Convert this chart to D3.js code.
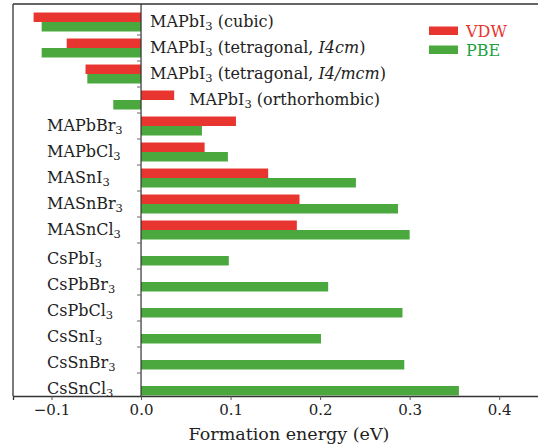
<!DOCTYPE html>
<html><head><meta charset="utf-8">
<script src="https://cdn.jsdelivr.net/npm/d3@7"></script>
<style>
html,body{margin:0;padding:0;background:#fff;}
svg text{font-family:"DejaVu Serif",serif;}
</style></head>
<body><div id="chart"></div>
<script>
const categories = ["MAPbI3c","MAPbI3t1","MAPbI3t2","MAPbI3o","MAPbBr3","MAPbCl3","MASnI3","MASnBr3","MASnCl3","CsPbI3","CsPbBr3","CsPbCl3","CsSnI3","CsSnBr3","CsSnCl3"];
const labelMain = ["MAPbI","MAPbI","MAPbI","MAPbI","MAPbBr","MAPbCl","MASnI","MASnBr","MASnCl","CsPbI","CsPbBr","CsPbCl","CsSnI","CsSnBr","CsSnCl"];
const labelSuffix = [" (cubic)"," (tetragonal, "," (tetragonal, "," (orthorhombic)","","","","","","","","","","",""];
const labelItalic = ["","I4cm","I4/mcm","","","","","","","","","","","",""];
const vdwValues = [-0.120,-0.083,-0.062,0.037,0.106,0.071,0.142,0.177,0.174,null,null,null,null,null,null];
const pbeValues = [-0.111,-0.111,-0.060,-0.031,0.068,0.097,0.240,0.287,0.300,0.098,0.209,0.292,0.201,0.294,0.355];
const xTicks = [-0.1,0.0,0.1,0.2,0.3,0.4];
const seriesNames = ["VDW","PBE"];
const seriesColors = ["#e8352f","#4aa83f"];
const legendTextColors = ["#e8352f","#22a040"];

const W = 538, H = 445;
const FONT = '"DejaVu Serif",serif';
const svg = d3.select("#chart").append("svg").attr("width",W).attr("height",H);
const plot = {left:13, right:541, top:4, bottom:396};

const x = d3.scaleLinear().domain([-0.143, 0.4467]).range([plot.left, plot.right]);
const y = d3.scaleBand().domain(categories).range([9, 399]).padding(0);
const barH = y.bandwidth()*0.365;
const cy = c => y(c) + y.bandwidth()/2;

const rows = categories.map((c,i)=>({c, i, vdw:vdwValues[i], pbe:pbeValues[i]}));

svg.append("g").selectAll("rect").data(rows.filter(d=>d.vdw!==null)).join("rect")
  .attr("x", d=>x(Math.min(0,d.vdw))).attr("width", d=>Math.abs(x(d.vdw)-x(0)))
  .attr("y", d=>cy(d.c)-barH).attr("height", barH).attr("fill", seriesColors[0]);
svg.append("g").selectAll("rect").data(rows).join("rect")
  .attr("x", d=>x(Math.min(0,d.pbe))).attr("width", d=>Math.abs(x(d.pbe)-x(0)))
  .attr("y", d=>cy(d.c)).attr("height", barH).attr("fill", seriesColors[1]);

const axisColor = "#333";
svg.append("line").attr("x1",plot.left).attr("x2",plot.left).attr("y1",plot.top).attr("y2",plot.bottom)
  .attr("stroke",axisColor).attr("stroke-width",1.3);
svg.append("line").attr("x1",plot.left).attr("x2",W).attr("y1",plot.top).attr("y2",plot.top)
  .attr("stroke",axisColor).attr("stroke-width",1.3);

svg.append("line").attr("x1",x(0)).attr("x2",x(0)).attr("y1",plot.top).attr("y2",plot.bottom)
  .attr("stroke",axisColor).attr("stroke-width",1.2);
svg.append("g").selectAll("line").data(categories.slice(1)).join("line")
  .attr("x1",x(0)-4).attr("x2",x(0)).attr("y1",d=>y(d)).attr("y2",d=>y(d))
  .attr("stroke","#666").attr("stroke-width",1);

const xAxis = d3.axisBottom(x).tickValues(xTicks).tickSize(4).tickPadding(4)
  .tickFormat(d=> (d<0?"\u2212":"") + Math.abs(d).toFixed(1));
const gx = svg.append("g").attr("transform",`translate(0,${plot.bottom})`).call(xAxis);
gx.attr("font-family", FONT);
gx.select(".domain").attr("stroke",axisColor).attr("stroke-width",1.3);
gx.selectAll(".tick line").attr("stroke","#555");
gx.selectAll(".tick text").attr("fill","#222").style("font-size","15px").style("font-family",FONT);

svg.append("text").attr("x", 289).attr("y", 440).attr("text-anchor","middle")
  .attr("fill","#222").style("font-size","17.5px").style("font-family",FONT).text("Formation energy (eV)");

const lab = svg.append("g").style("font-family",FONT);
rows.forEach(d=>{
  const right = d.i < 4;
  const maxV = Math.max(0, d.vdw===null?0:d.vdw, d.pbe);
  const lx = right ? x(maxV) + (maxV>0 ? 15 : 9) : 47;
  const ly = cy(d.c) + (d.vdw===null ? 3 : 0) + 5;
  const t = lab.append("text").attr("x",lx).attr("y",ly).attr("fill","#222").style("font-size","16px");
  t.append("tspan").text(labelMain[d.i]);
  t.append("tspan").attr("dy",2.5).style("font-size","11.5px").text("3");
  if (labelSuffix[d.i]) {
    t.append("tspan").attr("dy",-2.5).text(labelSuffix[d.i]);
    if (labelItalic[d.i]) {
      t.append("tspan").style("font-style","italic").text(labelItalic[d.i]);
      t.append("tspan").text(")");
    }
  }
});

const lg = svg.append("g").style("font-family",FONT);
seriesNames.forEach((s,i)=>{
  lg.append("rect").attr("x",429).attr("y",26.5+i*19).attr("width",29).attr("height",8.5).attr("fill",seriesColors[i]);
  lg.append("text").attr("x",466).attr("y",36.5+i*19).attr("fill",legendTextColors[i]).style("font-size","16px").text(s);
});
</script></body></html>
